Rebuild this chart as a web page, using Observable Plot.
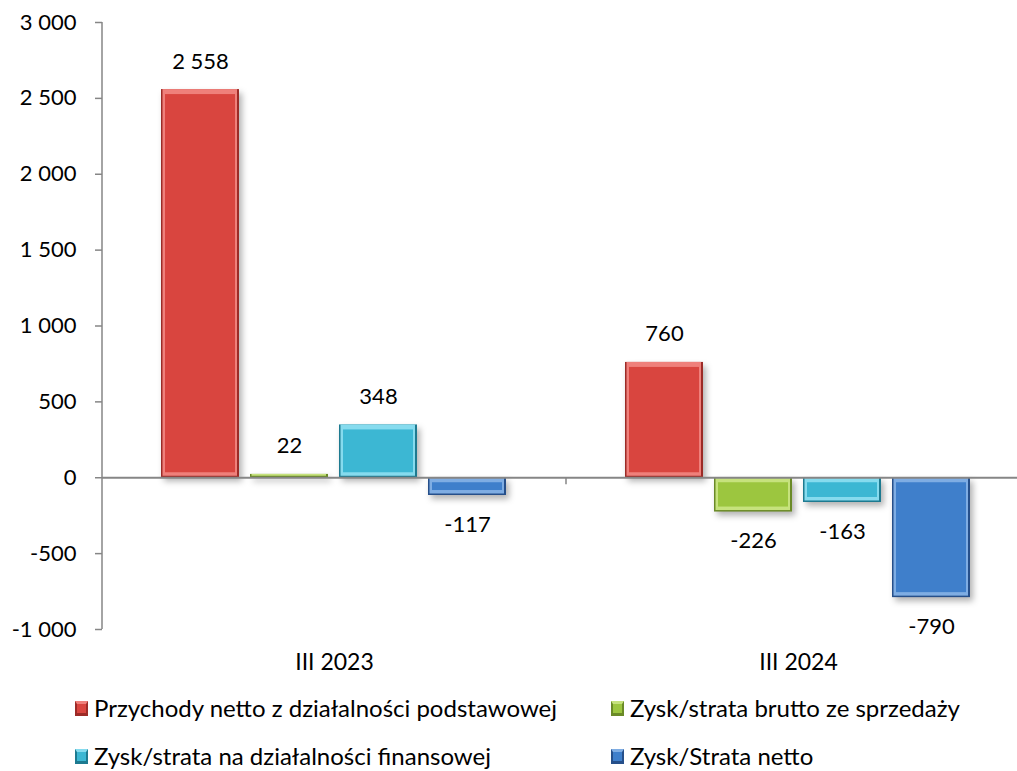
<!DOCTYPE html>
<html><head><meta charset="utf-8">
<script src="https://cdn.jsdelivr.net/npm/d3@7"></script>
<script src="https://cdn.jsdelivr.net/npm/@observablehq/plot@0.6"></script>
<style>
html,body{margin:0;padding:0;background:#fff;}
body{width:1017px;height:771px;overflow:hidden;font-family:Lato,sans-serif;}
#chart svg{display:block;}
#legend{display:grid;grid-template-columns:536px auto;padding-left:75px;margin-top:-6px;font-size:24px;line-height:1.1;color:#000;}
.item{display:flex;align-items:center;height:48px;white-space:nowrap;}
.sw{width:13px;height:15px;margin-right:6px;box-sizing:border-box;border-style:solid;border-width:3px 2px 3px 2px;}
</style></head><body>
<div id="chart"></div>
<div id="legend"></div>
<script>
const categories = ["III 2023", "III 2024"];
const seriesNames = [
  "Przychody netto z działalności podstawowej",
  "Zysk/strata brutto ze sprzedaży",
  "Zysk/strata na działalności finansowej",
  "Zysk/Strata netto"
];
const values2023 = [2558, 22, 348, -117];
const values2024 = [760, -226, -163, -790];
const yTicks = [-1000, -500, 0, 500, 1000, 1500, 2000, 2500, 3000];

const mainColor = ["#d9453f", "#9cc63f", "#3cb7d3", "#3f7fcb"];
const lightColor = ["#ef807b", "#c6e27d", "#86dbee", "#7fade3"];
const darkColor = ["#9c2b27", "#6a8a27", "#1d7a90", "#264f8a"];

const data = [];
categories.forEach((c, ci) => {
  const vals = ci === 0 ? values2023 : values2024;
  seriesNames.forEach((s, si) => data.push({category: c, series: s, value: vals[si], si}));
});

const fmt = d3.formatLocale({decimal: ",", thousands: " ", grouping: [3], currency: ["", ""], minus: "-"}).format(",d");

const common = {fx: "category", x: "series", y: "value"};
const plot = Plot.plot({
  width: 1017, height: 690,
  marginLeft: 102, marginRight: 0, marginTop: 22, marginBottom: 61,
  style: {fontFamily: "Lato, sans-serif", fontSize: "22px", color: "#000", background: "#fff", overflow: "hidden"},
  fx: {domain: categories, range: [102, 1030], padding: 0, label: null, axis: null},
  x: {domain: seriesNames, paddingInner: 0.122, paddingOuter: 0.64, axis: null},
  y: {domain: [-1000, 3000], label: null, axis: null},
  color: {type: "identity"},
  marks: [
    Plot.axisY({ticks: yTicks, tickSize: 7, tickPadding: 19, tickFormat: fmt, stroke: "#868686", strokeWidth: 1.5, fill: "#000", label: null, fontSize: 22}),
    Plot.axisFx({anchor: "bottom", tickSize: 0, tickPadding: 24, label: null, fontSize: 23, fill: "#000"}),
    Plot.barY(data, {...common, fill: d => darkColor[d.si]}),
    Plot.barY(data, {...common, fill: d => lightColor[d.si], insetLeft: 1.5, insetRight: 2, insetBottom: 1.5}),
    Plot.barY(data.filter(d => Math.abs(d.value) > 60), {...common, fill: d => mainColor[d.si], insetTop: 5, insetLeft: 4, insetRight: 4, insetBottom: 5}),
    Plot.ruleY([0], {stroke: "#868686", strokeWidth: 2}),
    Plot.text(data.filter(d => d.value >= 0), {...common, text: d => fmt(d.value), dy: -28, fontSize: 22, fill: "#000"}),
    Plot.text(data.filter(d => d.value < 0), {...common, text: d => fmt(d.value), dy: 29, fontSize: 22, fill: "#000"})
  ]
});
document.getElementById("chart").appendChild(plot);

// shadows on base layer
plot.querySelectorAll("rect").forEach(r => {
  const f = (r.getAttribute("fill") || "").toLowerCase();
  if (darkColor.includes(f)) r.style.filter = "drop-shadow(3px 4px 3px rgba(0,0,0,0.3))";
});

// axis line and category separator ticks, from Plot's scales
try {
  const ys = plot.scale("y"), fxs = plot.scale("fx");
  const ns = "http://www.w3.org/2000/svg";
  const y0 = ys.apply(0), yTop = ys.apply(yTicks[yTicks.length - 1]), yBot = ys.apply(yTicks[0]);
  const left = fxs.apply(categories[0]);
  const bw = fxs.bandwidth ?? (fxs.apply(categories[1]) - left);
  const addLine = (x1, y1, x2, y2, w) => {
    const l = document.createElementNS(ns, "line");
    l.setAttribute("x1", x1); l.setAttribute("y1", y1); l.setAttribute("x2", x2); l.setAttribute("y2", y2);
    l.setAttribute("stroke", "#868686"); l.setAttribute("stroke-width", w);
    plot.appendChild(l);
  };
  addLine(left, yTop, left, yBot, 1.5);
  categories.forEach(c => addLine(fxs.apply(c) + bw, y0, fxs.apply(c) + bw, y0 + 7, 1.5));
} catch (e) { console.error(e); }

// legend
const lg = document.getElementById("legend");
seriesNames.forEach((s, i) => {
  const it = document.createElement("div"); it.className = "item";
  const sw = document.createElement("span"); sw.className = "sw";
  sw.style.background = mainColor[i];
  sw.style.borderTopColor = lightColor[i];
  sw.style.borderLeftColor = darkColor[i];
  sw.style.borderRightColor = darkColor[i];
  sw.style.borderBottomColor = darkColor[i];
  const t = document.createElement("span"); t.textContent = s;
  it.appendChild(sw); it.appendChild(t); lg.appendChild(it);
});
</script>
</body></html>
